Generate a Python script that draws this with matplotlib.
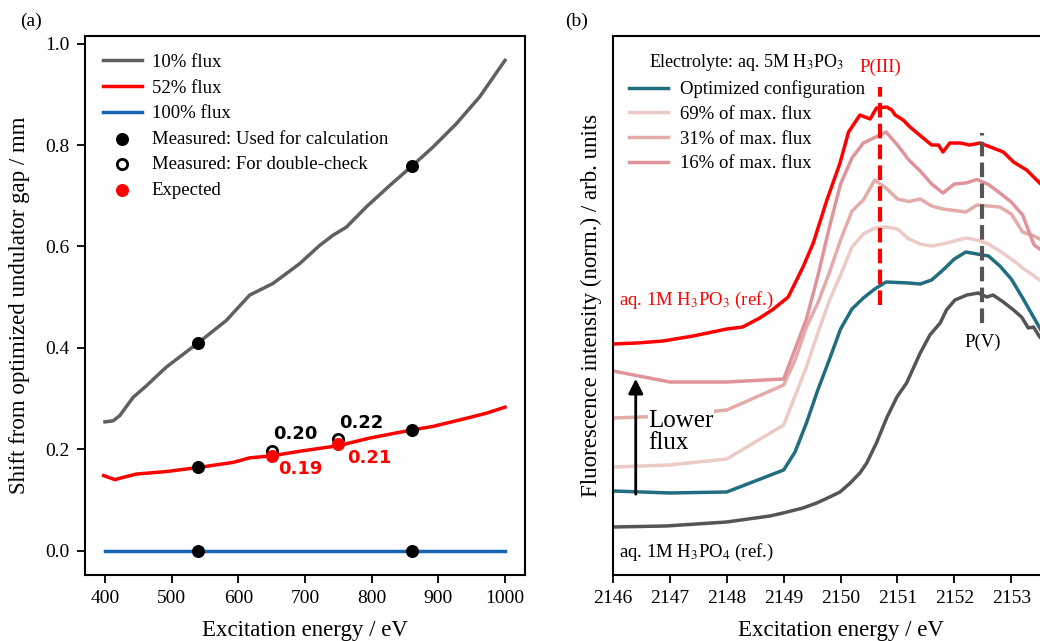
import numpy as np
import matplotlib
matplotlib.use("Agg")
import matplotlib.pyplot as plt

plt.rcParams['font.family'] = ['Liberation Serif', 'DejaVu Serif']
plt.rcParams['mathtext.fontset'] = 'stix'

# (a) shift from optimized undulator gap
e10 = [400, 412, 422, 442, 462, 492, 540, 582, 617, 652, 692, 722, 742, 762, 792, 827, 860, 892, 927, 962, 1000]
s10 = [0.254, 0.256, 0.266, 0.302, 0.325, 0.362, 0.41, 0.454, 0.504, 0.527, 0.566, 0.602, 0.622, 0.638, 0.678, 0.72, 0.758, 0.796, 0.842, 0.895, 0.967]
e52 = [398, 415, 423, 447, 492, 540, 592, 617, 650, 692, 750, 797, 860, 892, 942, 972, 1000]
s52 = [0.148, 0.140, 0.143, 0.151, 0.156, 0.164, 0.174, 0.183, 0.187, 0.196, 0.207, 0.222, 0.238, 0.245, 0.261, 0.271, 0.283]
e100 = [400, 1000]
s100 = [0.0, 0.0]

meas_e = [540, 860, 540, 860, 540, 860]
meas_s = [0.41, 0.758, 0.165, 0.238, 0.0, 0.0]
check_e = [650, 750]
check_s = [0.197, 0.220]
exp_e = [650, 750]
exp_s = [0.187, 0.210]

# (b) P K-edge spectra
e_coarse = [2146, 2147, 2148, 2149, 2149.2, 2149.4, 2149.6, 2149.8, 2150.0, 2150.2, 2150.4, 2150.6,
            2150.8, 2151.0, 2151.2, 2151.4, 2151.6, 2151.8, 2152.0, 2152.2, 2152.4, 2152.6, 2152.8,
            2153.0, 2153.2, 2153.4, 2153.6, 2153.8, 2154.0]
opt = [0.84, 0.82, 0.83, 1.05, 1.23, 1.52, 1.85, 2.15, 2.46, 2.66, 2.77, 2.86, 2.93, 2.925, 2.92, 2.91,
       2.95, 3.05, 3.16, 3.23, 3.21, 3.19, 3.09, 2.96, 2.77, 2.57, 2.37, 2.20, 2.05]
f69 = [1.08, 1.10, 1.16, 1.50, 1.79, 2.08, 2.42, 2.74, 3.00, 3.28, 3.41, 3.47, 3.48, 3.46, 3.36, 3.31,
       3.29, 3.31, 3.34, 3.37, 3.35, 3.31, 3.24, 3.16, 3.07, 2.99, 2.91, 2.83, 2.75]
f31 = [1.57, 1.59, 1.65, 1.90, 2.15, 2.48, 2.72, 3.02, 3.35, 3.64, 3.75, 3.95, 3.87, 3.76, 3.735, 3.76,
       3.69, 3.66, 3.645, 3.63, 3.70, 3.69, 3.68, 3.61, 3.43, 3.39, 3.33, 3.22, 3.10]
f16 = [2.04, 1.93, 1.93, 1.96, 2.26, 2.56, 2.99, 3.47, 3.91, 4.17, 4.32, 4.375, 4.43, 4.30, 4.15, 4.04,
       3.91, 3.82, 3.91, 3.92, 3.955, 3.905, 3.82, 3.73, 3.60, 3.30, 3.22, 3.15, 3.08]

e_po3 = [2146.00, 2146.42, 2146.88, 2147.41, 2148.00, 2148.28, 2148.58, 2148.82, 2149.08, 2149.34, 2149.52,
         2149.76, 2149.99, 2150.14, 2150.34, 2150.52, 2150.63, 2150.81, 2150.90, 2150.96, 2151.10, 2151.22,
         2151.43, 2151.60, 2151.72, 2151.80, 2151.92, 2152.10, 2152.27, 2152.45, 2152.68, 2152.86, 2153.04,
         2153.27, 2153.50, 2153.75, 2154.0]
i_po3 = [2.31, 2.32, 2.34, 2.39, 2.46, 2.48, 2.57, 2.66, 2.78, 3.08, 3.32, 3.75, 4.12, 4.43, 4.60, 4.56,
         4.67, 4.68, 4.65, 4.60, 4.55, 4.48, 4.38, 4.30, 4.30, 4.23, 4.32, 4.32, 4.30, 4.32, 4.27, 4.23,
         4.13, 4.05, 3.92, 3.78, 3.65]

e_po4 = [2146.00, 2146.94, 2148.00, 2148.76, 2148.99, 2149.34, 2149.58, 2149.81, 2149.99, 2150.17, 2150.34,
         2150.46, 2150.63, 2150.81, 2150.99, 2151.16, 2151.40, 2151.57, 2151.75, 2151.86, 2152.01, 2152.22,
         2152.42, 2152.57, 2152.68, 2152.86, 2153.04, 2153.18, 2153.30, 2153.39, 2153.50, 2153.75, 2154.0]
i_po4 = [0.48, 0.49, 0.53, 0.59, 0.62, 0.67, 0.72, 0.78, 0.83, 0.92, 1.02, 1.12, 1.32, 1.57, 1.78, 1.92,
         2.22, 2.40, 2.52, 2.65, 2.75, 2.80, 2.82, 2.78, 2.80, 2.73, 2.65, 2.58, 2.47, 2.48, 2.38, 2.25, 2.12]

p3_e, p3_range = 2150.69, (2.70, 4.88)
p5_e, p5_range = 2152.49, (2.52, 4.42)

fig = plt.figure(figsize=(10.4, 6.41), dpi=100, facecolor='white')
ax1 = fig.add_axes([0.0817, 0.103, 0.4231, 0.8408])
ax2 = fig.add_axes([0.5894, 0.103, 0.4377, 0.8408])

# ---- panel (a)
ax1.plot(e10, s10, color='#606060', lw=2.5, label='10% flux')
ax1.plot(e52, s52, color='#ff0000', lw=2.5, label='52% flux')
ax1.plot(e100, s100, color='#1565b0', lw=2.5, label='100% flux')
ax1.scatter(meas_e, meas_s, s=70, color='black', zorder=5, label='Measured: Used for calculation')
ax1.scatter(check_e, check_s, s=55, facecolors='white', edgecolors='black', linewidths=2, zorder=5,
            label='Measured: For double-check')
ax1.scatter(exp_e, exp_s, s=70, color='#ff0000', zorder=6, label='Expected')

bold = dict(family='DejaVu Sans', weight='bold', fontsize=13)
ax1.text(652, 0.231, '0.20', color='black', va='center', ha='left', **bold)
ax1.text(751, 0.252, '0.22', color='black', va='center', ha='left', **bold)
ax1.text(660, 0.162, '0.19', color='#ff0000', va='center', ha='left', **bold)
ax1.text(763, 0.182, '0.21', color='#ff0000', va='center', ha='left', **bold)

ax1.set_xlim(370, 1030)
ax1.set_ylim(-0.048, 1.015)
ax1.set_xticks([400, 500, 600, 700, 800, 900, 1000])
ax1.set_yticks([0.0, 0.2, 0.4, 0.6, 0.8, 1.0])
ax1.set_xlabel('Excitation energy / eV', fontsize=16.5, labelpad=9)
ax1.set_ylabel('Shift from optimized undulator gap / mm', fontsize=16.5, labelpad=11)
ax1.legend(loc='upper left', frameon=False, fontsize=13.5, handlelength=2.1,
           borderaxespad=0.55, labelspacing=0.45, handletextpad=0.5)

# ---- panel (b)
ax2.plot(e_coarse, opt, color='#216e80', lw=2.5, label='Optimized configuration')
ax2.plot(e_coarse, f69, color='#eccac6', lw=2.5, label='69% of max. flux')
ax2.plot(e_coarse, f31, color='#e4aca9', lw=2.5, label='31% of max. flux')
ax2.plot(e_coarse, f16, color='#df939b', lw=2.5, label='16% of max. flux')
ax2.plot(e_po3, i_po3, color='#ff0000', lw=2.5)
ax2.plot(e_po4, i_po4, color='#555555', lw=2.5)

ax2.plot([p3_e, p3_e], p3_range, color='#ff0000', lw=3, ls=(0, (3.5, 1.5)))
ax2.plot([p5_e, p5_e], p5_range, color='#555555', lw=3, ls=(0, (3.5, 1.5)))
ax2.text(p3_e, 5.08, 'P(III)', color='#ff0000', ha='center', va='center', fontsize=13.5)
ax2.text(p5_e, 2.33, 'P(V)', color='black', ha='center', va='center', fontsize=13.5)

ax2.text(2146.1, 2.75, 'aq. 1M H$_3$PO$_3$ (ref.)', color='#ff0000', ha='left', va='center', fontsize=13.5)
ax2.text(2146.1, 0.23, 'aq. 1M H$_3$PO$_4$ (ref.)', color='black', ha='left', va='center', fontsize=13.5)

ax2.annotate('', xy=(2146.4, 1.99), xytext=(2146.4, 0.78),
             arrowprops=dict(arrowstyle='-|>', color='black', lw=2, mutation_scale=22))
ax2.text(2146.62, 1.43, 'Lower\nflux', ha='left', va='center', fontsize=18, linespacing=1.05,
         bbox=dict(facecolor='white', edgecolor='none', pad=0.5))

ax2.set_xlim(2146, 2154)
ax2.set_ylim(0, 5.39)
ax2.set_xticks([2146, 2147, 2148, 2149, 2150, 2151, 2152, 2153])
ax2.set_yticks([])
ax2.set_xlabel('Excitation energy / eV', fontsize=16.5, labelpad=9)
ax2.set_ylabel('Fluorescence intensity (norm.) / arb. units', fontsize=16.5, labelpad=8)
ax2.legend(loc='upper left', frameon=False, fontsize=13.5, handlelength=2.1,
           title='Electrolyte: aq. 5M H$_3$PO$_3$', title_fontsize=13,
           borderaxespad=0.45, labelspacing=0.4, handletextpad=0.6)

for ax in (ax1, ax2):
    for sp in ax.spines.values():
        sp.set_linewidth(1.5)
    ax.tick_params(labelsize=14, length=6, width=1.3, pad=5)

fig.text(0.019, 0.966, '(a)', fontsize=14, va='center', ha='left')
fig.text(0.543, 0.966, '(b)', fontsize=14, va='center', ha='left')

fig.savefig('out.png', dpi=100, facecolor='white')
